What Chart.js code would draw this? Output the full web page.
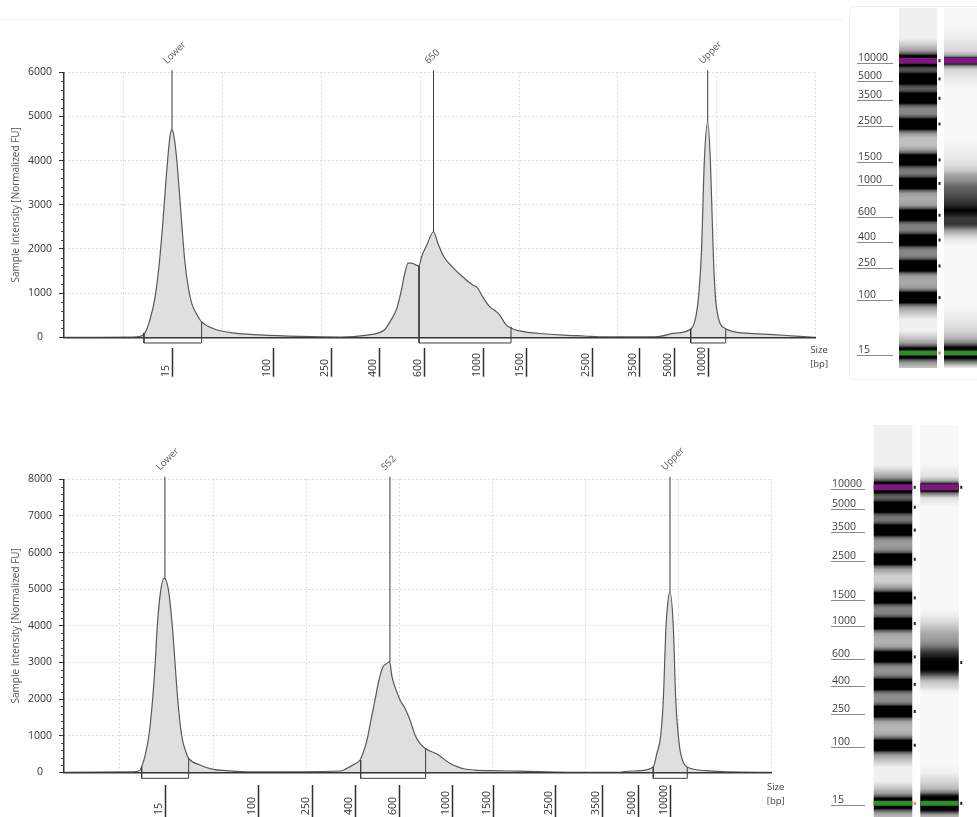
<!DOCTYPE html>
<html>
<head>
<meta charset="utf-8">
<script src="https://cdn.jsdelivr.net/npm/chart.js@4.4.1/dist/chart.umd.min.js"></script>
<style>
  html, body { margin:0; padding:0; background:#fff; }
  body { position:relative; width:977px; height:817px; overflow:hidden; }
  canvas { position:absolute; }
  .rule { position:absolute; left:0; top:19px; width:842px; height:0; border-top:1px solid #eeeeee; }
  .panel { position:absolute; left:849px; top:6px; width:140px; height:372px; border:1px solid #efefef; border-radius:4px; }
</style>
</head>
<body>
<div class="rule"></div>
<div class="panel"></div>
<canvas id="epTop" width="840" height="395" style="left:0;top:0"></canvas>
<canvas id="gelTop" width="150" height="390" style="left:840px;top:0"></canvas>
<canvas id="epBottom" width="800" height="397" style="left:0;top:420px"></canvas>
<canvas id="gelBottom" width="177" height="407" style="left:800px;top:410px"></canvas>
<script>
// ---------------- DATA ----------------
// size ladder (bp) and its migration positions on each run
const sizeLabels = ['15','100','250','400','600','1000','1500','2500','3500','5000','10000'];
const ladderPosTop    = [0.483, 1.511, 2.099, 2.579, 3.040, 3.630, 4.067, 4.733, 5.211, 5.570, 5.908];
const ladderPosBottom = [0.483, 1.479, 2.059, 2.524, 2.997, 3.569, 4.010, 4.672, 5.174, 5.567, 5.908];

// y axis ticks
const yTicksTop    = [0, 1000, 2000, 3000, 4000, 5000, 6000];
const yTicksBottom = [0, 1000, 2000, 3000, 4000, 5000, 6000, 7000, 8000];
const gridPos = [0, 1, 2, 3, 4, 5, 6, 7];

// top run trace (migration position, intensity FU)
const traceTopX = [
  -0.607, -0.243, 0.091, 0.162, 0.213, 0.263, 0.314, 0.354, 0.390, 0.420,
  0.445, 0.466, 0.486, 0.506, 0.531, 0.557, 0.587, 0.617, 0.653, 0.688,
  0.736, 0.786, 0.901, 1.103, 1.377, 1.781, 2.200,
  2.466, 2.569, 2.637, 2.705, 2.756, 2.808, 2.842, 2.876, 2.911, 2.952,
  2.986, 3.013, 3.065, 3.133, 3.177, 3.236, 3.321, 3.424, 3.526, 3.578,
  3.630, 3.698, 3.766, 3.801, 3.868, 3.917, 3.989, 4.091, 4.245, 4.450,
  4.656, 4.861, 5.374,
  5.580, 5.744, 5.791, 5.819, 5.846, 5.874, 5.908, 5.935, 5.963, 5.983,
  6.010, 6.086, 6.298, 6.572, 6.842, 7.000
];
const traceTopY = [
  0, 0, 5, 20, 100, 400, 900, 1600, 2500, 3400,
  4100, 4550, 4700, 4550, 4100, 3400, 2500, 1700, 1100, 750,
  520, 350, 200, 100, 55, 20, 5,
  50, 95, 170, 400, 620, 1070, 1450, 1680, 1680, 1640,
  1620, 1830, 2090, 2390, 2130, 1830, 1600, 1375, 1190, 1120,
  920, 700, 585, 510, 280, 210, 150, 110, 80, 50,
  30, 10, 10,
  95, 200, 500, 1000, 2000, 4000, 4880, 4000, 2000, 1000,
  500, 200, 95, 60, 20, 0
];

// bottom run trace
const traceBottomX = [
  -0.601, 0.140, 0.215, 0.233, 0.269, 0.311, 0.351, 0.379, 0.401, 0.440,
  0.476, 0.519, 0.562, 0.591, 0.620, 0.663, 0.716, 0.738, 0.859, 1.002,
  1.146, 1.396,
  2.363, 2.417, 2.471, 2.535, 2.578, 2.610, 2.653, 2.696, 2.739, 2.782,
  2.825, 2.860, 2.895, 2.922, 2.965, 3.008, 3.061, 3.115, 3.169, 3.222,
  3.276, 3.330, 3.405, 3.469, 3.544, 3.620, 3.706, 3.813, 3.974, 4.296,
  4.834, 5.371,
  5.403, 5.585, 5.728, 5.765, 5.808, 5.836, 5.865, 5.883, 5.905, 5.943,
  5.969, 5.997, 6.023, 6.087, 6.302, 6.552, 7.003
];
const traceBottomY = [
  0, 10, 60, 155, 450, 1000, 2000, 3000, 4000, 5000,
  5300, 5000, 4000, 3000, 2000, 1000, 500, 380, 200, 80,
  45, 10,
  35, 80, 155, 245, 335, 520, 880, 1430, 1975, 2520,
  2885, 2960, 3020, 2610, 2250, 1975, 1750, 1430, 1020, 790,
  655, 580, 500, 380, 245, 155, 90, 60, 45, 30,
  0, 0,
  15, 45, 150, 500, 1000, 2000, 4000, 4600, 4930, 4000,
  2000, 1000, 500, 150, 45, 10, 0
];

// peaks
const peakLabelsTop = ['Lower', '650', 'Upper'];
const peakXTop = [0.486, 3.133, 5.908];
const peakVTop = [4700, 2390, 4880];
const peakLabelsBottom = ['Lower', '552', 'Upper'];
const peakXBottom = [0.483, 2.900, 5.908];
const peakVBottom = [5280, 3010, 4930];

// integration regions
const regionTopX1 = [0.202, 2.986, 5.736];
const regionTopX2 = [0.786, 3.917, 6.090];
const regionTopV1 = [100, 1620, 190];
const regionTopV2 = [350, 240, 190];
const regionBottomX1 = [0.233, 2.585, 5.728];
const regionBottomX2 = [0.738, 3.283, 6.093];
const regionBottomV1 = [155, 330, 150];
const regionBottomV2 = [380, 650, 140];

// ---------------- STYLE / LAYOUT ----------------
const FONT = "'Open Sans', 'Liberation Sans', sans-serif";
Chart.defaults.font.family = FONT;
Chart.defaults.animation = false;

const BAND_STOPS = [[0,0],[0.159,0.18],[0.273,0.35],[0.341,0.62],[0.386,1],[0.614,1],[0.659,0.62],[0.727,0.35],[0.841,0.18],[1,0]];

function pts(xs, ys) { return xs.map((x, i) => ({ x: x, y: ys[i] })); }

function epExtras(d, L) {
  return {
    id: 'epExtras',
    afterDraw(chart) {
      const ctx = chart.ctx, xs = chart.scales.x, ys = chart.scales.y, ca = chart.chartArea;
      ctx.save();
      // minor ticks
      ctx.strokeStyle = '#444'; ctx.lineWidth = 1;
      for (let v = 0; v <= d.yMax; v += L.minorStep) {
        if (v % 1000 === 0) continue;
        const py = Math.round(ys.getPixelForValue(v)) + 0.5;
        ctx.beginPath(); ctx.moveTo(ca.left - 3, py); ctx.lineTo(ca.left, py); ctx.stroke();
      }
      // size ladder scale
      ctx.lineWidth = 1.5; ctx.strokeStyle = '#2e2e2e'; ctx.fillStyle = '#333';
      ctx.font = '10.5px ' + FONT; ctx.textAlign = 'left'; ctx.textBaseline = 'alphabetic';
      d.ladderPos.forEach((u, i) => {
        const px = Math.round(xs.getPixelForValue(u)) + 0.5;
        ctx.beginPath(); ctx.moveTo(px, ca.bottom + L.tickTop); ctx.lineTo(px, ca.bottom + L.tickBottom); ctx.stroke();
        ctx.save(); ctx.translate(px - 3.5, ca.bottom + L.labelBase); ctx.rotate(-Math.PI / 2);
        ctx.fillText(sizeLabels[i], 0, 0); ctx.restore();
      });
      // peak labels
      ctx.font = '9.5px ' + FONT; ctx.fillStyle = '#555';
      const topPx = ys.getPixelForValue(L.markerTop);
      d.peakX.forEach((u, i) => {
        const px = xs.getPixelForValue(u);
        ctx.save(); ctx.translate(px - 5, topPx - 6); ctx.rotate(-Math.PI / 4);
        ctx.fillText(d.peakLabels[i], 0, 0); ctx.restore();
      });
      // Size [bp]
      ctx.font = '9.5px ' + FONT; ctx.fillStyle = '#444'; ctx.textAlign = 'center'; ctx.textBaseline = 'middle';
      ctx.fillText('Size', ca.right + L.sizeDx, ca.bottom + L.sizeDy1);
      ctx.fillText('[bp]', ca.right + L.sizeDx, ca.bottom + L.sizeDy2);
      ctx.restore();
    }
  };
}

function makeEP(id, d, L) {
  const ds = [{
    data: pts(d.traceX, d.traceY), borderColor: '#595959', borderWidth: 1.2,
    backgroundColor: '#dfdfdf', fill: 'origin', pointRadius: 0,
    cubicInterpolationMode: 'monotone', order: 3
  }];
  d.regionX1.forEach((x1, i) => {
    const x2 = d.regionX2[i];
    ds.push({
      data: [{x: x1, y: d.regionV1[i]}, {x: x1, y: -L.regionDepth}, {x: x2, y: -L.regionDepth}, {x: x2, y: d.regionV2[i]}],
      borderColor: '#3c3c3c', borderWidth: 1, pointRadius: 0, fill: false, clip: false, order: 1
    });
  });
  d.peakX.forEach((x, i) => {
    ds.push({
      data: [{x: x, y: d.peakV[i]}, {x: x, y: L.markerTop}],
      borderColor: '#3c3c3c', borderWidth: 1, pointRadius: 0, fill: false, clip: false, order: 1
    });
  });
  return new Chart(document.getElementById(id), {
    type: 'line',
    data: { datasets: ds },
    options: {
      responsive: false, animation: false, devicePixelRatio: 1,
      layout: { padding: { left: 0, top: L.top, right: L.right, bottom: 0 } },
      plugins: { legend: { display: false }, tooltip: { enabled: false } },
      scales: {
        x: {
          type: 'linear', min: d.xMin, max: 7,
          afterBuildTicks: s => { s.ticks = gridPos.map(v => ({ value: v })); },
          afterFit: s => { s.height = L.xAxisH; },
          ticks: { display: false, autoSkip: false },
          grid: { color: '#bdbdbd', lineWidth: 1, drawTicks: false },
          border: { display: true, color: '#333', width: 1.5, dash: [1, 3] }
        },
        y: {
          type: 'linear', min: 0, max: d.yMax,
          afterBuildTicks: s => { s.ticks = d.yTicks.map(v => ({ value: v })); },
          afterFit: s => { s.width = 64; },
          ticks: { color: '#333', font: { size: 10.5 }, padding: 7, crossAlign: 'center', autoSkip: false,
                   callback: v => String(v) },
          grid: {
            color: c => (c.tick && c.tick.value === 0) ? 'rgba(0,0,0,0)' : '#bdbdbd',
            tickColor: '#333', tickLength: 5, lineWidth: 1
          },
          border: { display: true, color: '#333', width: 1.5, dash: [1, 3] },
          title: { display: true, text: 'Sample Intensity [Normalized FU]', color: '#555', font: { size: 10 }, padding: { top: 10, bottom: 0 } }
        }
      }
    },
    plugins: [epExtras(d, L)]
  });
}

function gelAlpha(v) {
  const t = Math.max(0, v - 60) / 2300;
  return Math.min(1, Math.pow(t, 0.7));
}

function sampleGradient(c, xs, ys, uMin, uMax) {
  const ch = c.chart, sc = ch.scales.y;
  if (!c.raw || !sc || !ch.chartArea) return 'rgba(0,0,0,0)';
  const top = sc.getPixelForValue(uMax), bot = sc.getPixelForValue(uMin);
  const g = ch.ctx.createLinearGradient(0, top, 0, bot);
  const span = bot - top;
  xs.forEach((u, i) => {
    if (u < uMin || u > uMax) return;
    const off = (sc.getPixelForValue(u) - top) / span;
    g.addColorStop(Math.min(1, Math.max(0, off)), 'rgba(0,0,0,' + gelAlpha(ys[i]).toFixed(3) + ')');
  });
  return g;
}

function bandGradient(c) {
  const ch = c.chart, sc = ch.scales.y;
  if (!c.raw || !sc || !ch.chartArea) return 'rgba(0,0,0,0)';
  const y0 = sc.getPixelForValue(c.raw[1]), y1 = sc.getPixelForValue(c.raw[0]);
  const g = ch.ctx.createLinearGradient(0, y0, 0, y1);
  BAND_STOPS.forEach(s => g.addColorStop(s[0], 'rgba(0,0,0,' + s[1] + ')'));
  return g;
}

function makeGel(id, g, L) {
  const cp = L.catPct;
  const base = { grouped: false, barPercentage: 1, categoryPercentage: cp, borderWidth: 0 };
  const ds = [];
  ds.push(Object.assign({}, base, { data: [[L.uMin, L.uMax], [L.uMin, L.uMax]], backgroundColor: ['#f0f0f0', '#f8f8f8'], order: 10 }));
  ds.push(Object.assign({}, base, { data: [null, [L.uMin, L.uMax]], backgroundColor: c => sampleGradient(c, g.traceX, g.traceY, L.uMin, L.uMax), order: 9 }));
  g.ladderPos.forEach(u => {
    ds.push(Object.assign({}, base, { data: [[u - L.bandHalf, u + L.bandHalf], null], backgroundColor: bandGradient, order: 8 }));
  });
  const uUp = g.ladderPos[g.ladderPos.length - 1], uLo = g.ladderPos[0];
  ds.push(Object.assign({}, base, { data: [[uUp - L.purpleHalf, uUp + L.purpleHalf], [uUp - L.purpleHalf, uUp + L.purpleHalf]], backgroundColor: '#7e177f', order: 2 }));
  ds.push(Object.assign({}, base, { data: [[uLo - L.greenHalf, uLo + L.greenHalf], [uLo - L.greenHalf, uLo + L.greenHalf]], backgroundColor: '#2f8d2c', order: 2 }));

  const extras = {
    id: 'gelExtras',
    afterDraw(chart) {
      const ctx = chart.ctx, sc = chart.scales.y;
      const els = chart.getDatasetMeta(0).data;
      const r0 = els[0].x + els[0].width / 2, r1 = els[1].x + els[1].width / 2;
      ctx.save();
      ctx.font = '10.5px ' + FONT; ctx.textAlign = 'left'; ctx.textBaseline = 'alphabetic';
      g.ladderPos.forEach((u, i) => {
        const py = sc.getPixelForValue(u);
        ctx.fillStyle = '#3c3c3c';
        ctx.fillText(sizeLabels[i], L.labelX, py);
        ctx.strokeStyle = '#8a8a8a'; ctx.lineWidth = 1;
        ctx.beginPath(); ctx.moveTo(L.labelX - 1, Math.round(py + 2) + 0.5); ctx.lineTo(L.ulEnd, Math.round(py + 2) + 0.5); ctx.stroke();
        ctx.fillStyle = i === 0 ? '#ff6a30' : '#222';
        ctx.fillRect(r0 + 1.5, py - 1.5, 2, 3);
      });
      ctx.fillStyle = '#222';
      [uUp, g.samplePeak, uLo].forEach(u => {
        const py = sc.getPixelForValue(u);
        ctx.fillRect(r1 + 1.5, py - 1.5, 2, 3);
      });
      ctx.restore();
    }
  };

  return new Chart(document.getElementById(id), {
    type: 'bar',
    data: { labels: ['ladder', 'sample'], datasets: ds },
    options: {
      responsive: false, animation: false, devicePixelRatio: 1,
      layout: { padding: L.pad },
      plugins: { legend: { display: false }, tooltip: { enabled: false } },
      scales: {
        x: { type: 'category', display: false, offset: true },
        y: { type: 'linear', display: false, min: L.uMin, max: L.uMax }
      }
    },
    plugins: [extras]
  });
}

// ---------------- BUILD ----------------
makeEP('epTop', {
  traceX: traceTopX, traceY: traceTopY, xMin: -0.607, yMax: 6000, yTicks: yTicksTop,
  ladderPos: ladderPosTop, peakX: peakXTop, peakV: peakVTop, peakLabels: peakLabelsTop,
  regionX1: regionTopX1, regionX2: regionTopX2, regionV1: regionTopV1, regionV2: regionTopV2
}, {
  top: 72.3, right: 24.4, xAxisH: 57.7, regionDepth: 129, markerTop: 6045, minorStep: 200,
  tickTop: 10.7, tickBottom: 39.4, labelBase: 39.7, sizeDx: 3.5, sizeDy1: 12.7, sizeDy2: 26.7
});

makeEP('epBottom', {
  traceX: traceBottomX, traceY: traceBottomY, xMin: -0.601, yMax: 8000, yTicks: yTicksBottom,
  ladderPos: ladderPosBottom, peakX: peakXBottom, peakV: peakVBottom, peakLabels: peakLabelsBottom,
  regionX1: regionBottomX1, regionX2: regionBottomX2, regionV1: regionBottomV1, regionV2: regionBottomV2
}, {
  top: 59.3, right: 28.3, xAxisH: 44.7, regionDepth: 164, markerTop: 8070, minorStep: 200,
  tickTop: 12.7, tickBottom: 44.7, labelBase: 42.7, sizeDx: 4, sizeDy1: 14.7, sizeDy2: 29.4
});

makeGel('gelTop', { traceX: traceTopX, traceY: traceTopY, ladderPos: ladderPosTop, samplePeak: peakXTop[1] }, {
  uMin: 0.205, uMax: 6.886, catPct: 38 / 45, bandHalf: 0.408, purpleHalf: 0.056, greenHalf: 0.046,
  pad: { left: 55.5, right: 4.5, top: 8, bottom: 22 }, labelX: 18, ulEnd: 53
});

makeGel('gelBottom', { traceX: traceBottomX, traceY: traceBottomY, ladderPos: ladderPosBottom, samplePeak: peakXBottom[1] }, {
  uMin: 0.248, uMax: 6.978, catPct: 38.5 / 46.5, bandHalf: 0.378, purpleHalf: 0.052, greenHalf: 0.043,
  pad: { left: 69.75, right: 14.25, top: 15, bottom: 0 }, labelX: 32, ulEnd: 65
});
</script>
</body>
</html>
